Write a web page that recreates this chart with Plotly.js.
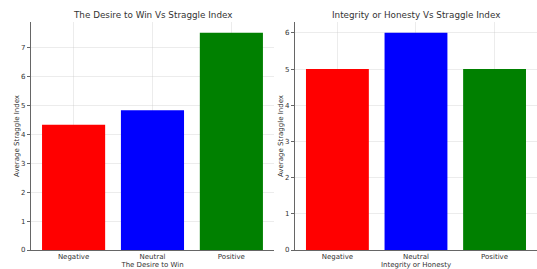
<!DOCTYPE html>
<html>
<head>
<meta charset="utf-8">
<script src="https://cdn.plot.ly/plotly-3.0.1.min.js"></script>
<style>html,body{margin:0;padding:0;background:#fff;}#chart{width:537px;height:269px;}</style>
</head>
<body>
<div id="chart"></div>
<script>
const categories = ["Negative", "Neutral", "Positive"];
const desireValues = [4.33, 4.83, 7.5];
const integrityValues = [5, 6, 5];
const barColors = ["red", "blue", "green"];
const leftTitle = "The Desire to Win Vs Straggle Index";
const rightTitle = "Integrity or Honesty Vs Straggle Index";
const leftXLabel = "The Desire to Win";
const rightXLabel = "Integrity or Honesty";
const yLabel = "Average Straggle Index";
const leftTicks = [0, 1, 2, 3, 4, 5, 6, 7];
const rightTicks = [0, 1, 2, 3, 4, 5, 6];

const FONT = "DejaVu Sans, sans-serif";
const tickFont = {family: FONT, size: 7, color: "#333"};
const labFont = {family: FONT, size: 7, color: "#333"};

const traces = [
  {type: "bar", x: categories, y: desireValues, marker: {color: barColors, line: {width: 0}},
   width: 0.8, xaxis: "x", yaxis: "y", hoverinfo: "none"},
  {type: "bar", x: categories, y: integrityValues, marker: {color: barColors, line: {width: 0}},
   width: 0.8, xaxis: "x2", yaxis: "y2", hoverinfo: "none"}
];

function xax(domain, anchor, label) {
  return {domain: domain, anchor: anchor, range: [-0.54, 2.54], type: "category",
    showline: true, linecolor: "#666", linewidth: 1, ticks: "", ticklen: 3,
    showgrid: true, gridcolor: "rgba(200,200,200,0.35)", gridwidth: 1,
    tickfont: tickFont, zeroline: false,
    title: {text: label, font: labFont, standoff: 1}};
}
function yax(anchor, range, ticks) {
  return {domain: [0.0706, 0.9182], anchor: anchor, range: range, tickvals: ticks,
    showline: true, linecolor: "#666", linewidth: 1, ticks: "outside", ticklen: 3, tickcolor: "#666",
    showgrid: true, gridcolor: "rgba(200,200,200,0.35)", gridwidth: 1, zeroline: false,
    tickfont: tickFont, title: {text: yLabel, font: labFont, standoff: 0}};
}

const layout = {
  width: 537, height: 269,
  margin: {l: 0, r: 0, t: 0, b: 0},
  paper_bgcolor: "#fff", plot_bgcolor: "#fff",
  showlegend: false, bargap: 0.2,
  xaxis: xax([0.0577, 0.5102], "y", leftXLabel),
  yaxis: yax("x", [0, 7.875], leftTicks),
  xaxis2: xax([0.5493, 1.0], "y2", rightXLabel),
  yaxis2: yax("x2", [0, 6.3], rightTicks),
  annotations: [
    {text: leftTitle, xref: "paper", yref: "paper", x: 0.284, y: 0.945, xanchor: "center", yanchor: "middle",
     showarrow: false, font: {family: FONT, size: 8.8, color: "#333"}},
    {text: rightTitle, xref: "paper", yref: "paper", x: 0.775, y: 0.945, xanchor: "center", yanchor: "middle",
     showarrow: false, font: {family: FONT, size: 8.8, color: "#333"}}
  ]
};

Plotly.newPlot("chart", traces, layout, {staticPlot: true, displayModeBar: false});
</script>
</body>
</html>
